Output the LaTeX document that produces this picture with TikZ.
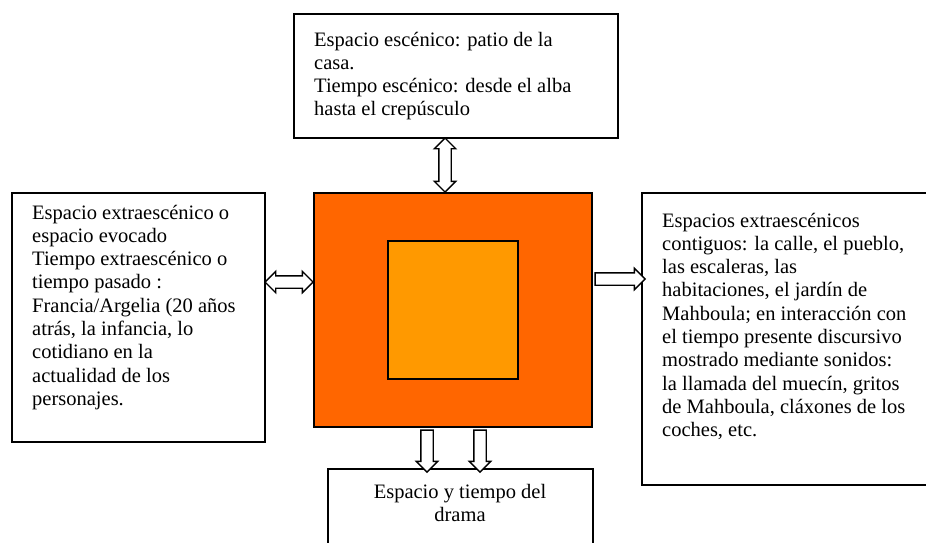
\documentclass[tikz,border=0pt]{standalone}
\usepackage{fontspec}
\setmainfont{Liberation Serif}
\usetikzlibrary{shapes.arrows,calc}
\definecolor{outerorange}{HTML}{FF6600}
\definecolor{innerorange}{HTML}{FF9900}
\begin{document}
\begin{tikzpicture}[x=1pt,y=-1pt,
  box/.style={draw=black, line width=1.2pt, fill=white, inner sep=0pt},
  sq/.style={draw=black, line width=1.4pt, inner sep=0pt},
  txt/.style={inner sep=0pt, anchor=base west, font=\fontsize{20.5}{23.3}\selectfont},
  sarrow/.style={single arrow, draw=black, line width=1.4pt, fill=white, inner sep=5.5pt,
    minimum width=0pt, single arrow head extend=4.5pt, single arrow tip angle=90,
    single arrow head indent=0pt},
  darrow/.style={double arrow, draw=black, line width=1.4pt, fill=white, inner sep=5.5pt,
    minimum width=0pt, double arrow head extend=4.5pt, double arrow tip angle=90,
    double arrow head indent=0pt}]
\useasboundingbox (0,0) rectangle (926,542);
\fill[white] (0,0) rectangle (926,542);

% boxes
\node[box, minimum width=324pt, minimum height=124pt] (topbox) at (456,76) {};
\node[box, minimum width=253pt, minimum height=249pt] (leftbox) at (138.5,317.5) {};
\node[box, minimum width=303pt, minimum height=292pt] (rightbox) at (793.5,339) {};
\node[box, minimum width=265pt, minimum height=91pt] (bottombox) at (460.5,514.5) {};

% orange squares
\node[sq, fill=outerorange, minimum width=278pt, minimum height=234pt] (outer) at (453,310) {};
\node[sq, fill=innerorange, minimum width=130pt, minimum height=138pt] (inner) at (453,310) {};

% texts
\node[txt] (toptext) at (314,46) {\parbox[t]{400pt}{Espacio escénico: patio de la\\casa.\\Tiempo escénico: desde el alba\\hasta el crepúsculo}};
\node[txt] (lefttext) at (32,219) {\parbox[t]{400pt}{Espacio extraescénico o\\espacio evocado\\Tiempo extraescénico o\\tiempo pasado :\\Francia/Argelia (20 años\\atrás, la infancia, lo\\cotidiano en la\\actualidad de los\\personajes.}};
\node[txt] (righttext) at (662,227) {\parbox[t]{400pt}{Espacios extraescénicos\\contiguos: la calle, el pueblo,\\las escaleras, las\\habitaciones, el jardín de\\Mahboula; en interacción con\\el tiempo presente discursivo\\mostrado mediante sonidos:\\la llamada del muecín, gritos\\de Mahboula, cláxones de los\\coches, etc.}};
\node[txt, anchor=base] (bottomtext) at (460,498) {\parbox[t]{300pt}{\centering Espacio y tiempo del\\drama}};

% block arrows
\node[darrow, rotate=90, minimum height=54pt] (a1) at (445,165) {};
\node[darrow, minimum height=48pt] (a2) at (289,282) {};
\node[sarrow, minimum height=50pt] (a3) at (617,279) {};
\node[sarrow, rotate=-90, minimum height=42pt] (a4) at (427,448) {};
\node[sarrow, rotate=-90, minimum height=42pt] (a5) at (480,448) {};
\end{tikzpicture}
\end{document}
